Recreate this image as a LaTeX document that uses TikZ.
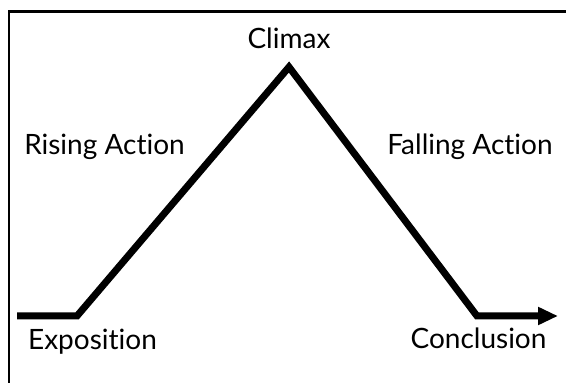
\documentclass[tikz,border=0pt]{standalone}
\usepackage{fontspec}
\setmainfont[Ligatures={NoCommon,NoDiscretionary}]{Lato}
\usetikzlibrary{arrows.meta}
\begin{document}
\begin{tikzpicture}[x=1pt,y=1pt,
  lbl/.style={anchor=base,inner sep=0pt,font=\fontsize{28}{32}\selectfont},
  plot/.style={line width=7pt,line join=miter,-{Triangle[length=20pt,width=17pt]}},
  frame/.style={line width=2.5pt}]
\useasboundingbox[fill=white] (0,0) rectangle (566,383);
\draw[frame] (9,-5) -- (9,371.5) -- (572,371.5);
\coordinate (start) at (17,67);
\coordinate (expo) at (77,67);
\coordinate (peak) at (289,316);
\coordinate (concl) at (477,67);
\coordinate (tip) at (558,67);
\draw[plot] (start) -- (expo) -- (peak) -- (concl) -- (tip);
\node[lbl] (climax) at (289,334.5) {Climax};
\node[lbl] (rising) at (104.5,228) {Rising Action};
\node[lbl] (falling) at (470,228) {Falling Action};
\node[lbl] (exposition) at (92.5,33) {Exposition};
\node[lbl] (conclusion) at (478.5,34) {Conclusion};
\end{tikzpicture}
\end{document}
